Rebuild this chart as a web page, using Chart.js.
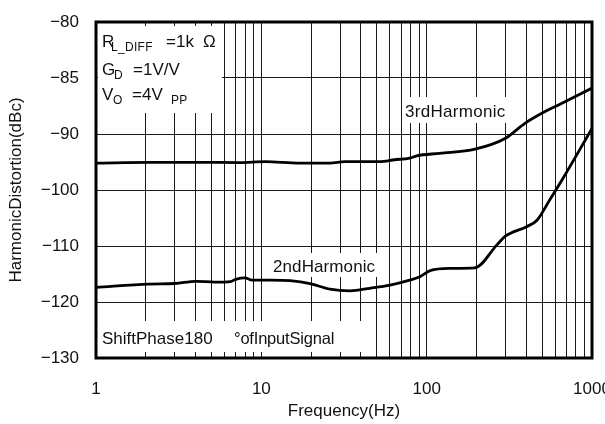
<!DOCTYPE html>
<html>
<head>
<meta charset="utf-8">
<script src="https://cdn.jsdelivr.net/npm/chart.js@4.4.1/dist/chart.umd.min.js"></script>
<style>
  html, body { margin: 0; padding: 0; background: #fff; }
  #wrap { width: 605px; height: 424px; }
</style>
</head>
<body>
<div id="wrap"><canvas id="chart" width="605" height="424"></canvas></div>
<script>
// Harmonic distortion vs frequency (log x, piecewise y axis)
const FONT = "'Liberation Sans', Arial, Helvetica, sans-serif";

// y axis: equally spaced ticks, but 5 dB steps on top and 10 dB steps below
const yTickValues = [-130, -120, -110, -100, -90, -85, -80];
const yTickLabels = ['\u2212130', '\u2212120', '\u2212110', '\u2212100', '\u221290', '\u221285', '\u221280'];

// x axis
const xTickValues = [1, 10, 100, 1000];
const xTickLabels = ['1', '10', '100', '1000'];
const xMinorSteps = [1, 2, 3, 4, 5, 6, 7, 8, 9];

// 3rd harmonic (dBc)
const freq3 = [1, 2.1, 4, 7.4, 10.5, 17, 26, 32, 52, 64, 79, 87, 120, 196, 298, 393, 520, 640, 1000];
const hd3 = [-95.2, -95.05, -95.05, -95.1, -94.95, -95.2, -95.2, -94.95, -94.95, -94.6, -94.3, -93.9, -93.45, -92.7, -90.8, -89.05, -88.0, -87.35, -85.9];

// 2nd harmonic (dBc)
const freq2 = [1, 2.1, 3, 4, 5.25, 6.5, 7.0, 7.96, 8.8, 11.3, 14.9, 19.7, 26, 34.4, 45.4, 60, 79, 91, 105, 138, 196, 266, 298, 405, 465, 557, 668, 1000];
const hd2 = [-117.4, -116.8, -116.7, -116.3, -116.45, -116.35, -115.95, -115.7, -116.1, -116.1, -116.2, -116.7, -117.7, -118.0, -117.55, -117.0, -116.1, -115.5, -114.4, -114.0, -113.9, -109.8, -108.3, -106.5, -105.4, -101.7, -97.9, -89.5];

// map dB onto the evenly spaced tick index of the y axis
function toAxis(db) {
  for (let i = 0; i < yTickValues.length - 1; i++) {
    const a = yTickValues[i], b = yTickValues[i + 1];
    if (db <= b || i === yTickValues.length - 2) return i + (db - a) / (b - a);
  }
  return 0;
}

function points(fs, ds) { return fs.map((f, i) => ({ x: f, y: toAxis(ds[i]) })); }

const xGrid = [];
xTickValues.slice(0, -1).forEach(d => xMinorSteps.forEach(m => xGrid.push(d * m)));
xGrid.push(xTickValues[xTickValues.length - 1]);

function drawText(ctx, str, x, y, size, spacing) {
  ctx.font = size + 'px ' + FONT;
  ctx.letterSpacing = (spacing || 0) + 'px';
  ctx.fillText(str, x, y);
  ctx.letterSpacing = '0px';
}

// white boxes behind the labels (grid lines stop there), frame and notes on top
const notesPlugin = {
  id: 'notes',
  beforeDatasetsDraw(chart) {
    const ctx = chart.ctx;
    ctx.save();
    ctx.fillStyle = '#fff';
    ctx.fillRect(98, 26, 124, 87);
    ctx.fillRect(403, 97, 107, 26);
    ctx.fillRect(268, 253, 112, 24);
    ctx.fillRect(98, 321, 270, 31);
    ctx.restore();
  },
  afterDatasetsDraw(chart) {
    const ctx = chart.ctx, ca = chart.chartArea;
    ctx.save();
    ctx.fillStyle = '#111';
    ctx.textBaseline = 'alphabetic';
    ctx.textAlign = 'left';
    // conditions box
    drawText(ctx, 'R', 102, 46.5, 17, 0);
    drawText(ctx, 'L_DIFF', 111, 51, 12, 0.3);
    drawText(ctx, '=1k', 166, 46.5, 17, 0);
    drawText(ctx, '\u03A9', 203, 46.5, 17, 0);
    drawText(ctx, 'G', 102, 75, 17, 0);
    drawText(ctx, 'D', 114, 78.5, 12, 0);
    drawText(ctx, '=1V/V', 133, 75, 17, 0);
    drawText(ctx, 'V', 102, 100, 17, 0);
    drawText(ctx, 'O', 113, 104, 12, 0);
    drawText(ctx, '=4V', 132, 100, 17, 0);
    drawText(ctx, 'PP', 171, 104, 12, 0.3);
    // curve labels
    drawText(ctx, '3rdHarmonic', 405, 116.5, 17, 0.3);
    drawText(ctx, '2ndHarmonic', 273, 271.5, 17, 0.1);
    drawText(ctx, 'ShiftPhase180', 102, 344, 17, 0);
    drawText(ctx, '\u00B0ofInputSignal', 234, 344, 16.5, -0.2);
    // frame
    ctx.strokeStyle = '#000';
    ctx.lineWidth = 3;
    ctx.strokeRect(ca.left, ca.top, ca.right - ca.left, ca.bottom - ca.top);
    ctx.restore();
  }
};

const lineStyle = { borderColor: '#000', borderWidth: 2.8, pointRadius: 0, fill: false, cubicInterpolationMode: 'monotone' };

new Chart(document.getElementById('chart'), {
  type: 'line',
  data: {
    datasets: [
      Object.assign({ label: '3rd Harmonic', data: points(freq3, hd3) }, lineStyle),
      Object.assign({ label: '2nd Harmonic', data: points(freq2, hd2) }, lineStyle),
    ]
  },
  plugins: [notesPlugin],
  options: {
    responsive: false,
    animation: false,
    events: [],
    layout: { padding: { top: 22, right: 13, left: 0, bottom: 0 } },
    plugins: { legend: { display: false }, tooltip: { enabled: false } },
    scales: {
      x: {
        type: 'logarithmic', min: 1, max: 1000,
        afterBuildTicks: s => { s.ticks = xGrid.map(v => ({ value: v })); },
        afterFit: s => { s.height = 66; s.paddingLeft = 0; s.paddingRight = 0; },
        ticks: {
          autoSkip: false, maxRotation: 0, padding: 21, color: '#111',
          font: { family: FONT, size: 17 },
          callback: v => { const i = xTickValues.indexOf(v); return i >= 0 ? xTickLabels[i] : ''; }
        },
        grid: { color: '#1a1a1a', lineWidth: 1, drawTicks: false },
        border: { display: false },
        title: { display: true, text: 'Frequency(Hz)', color: '#111', font: { family: FONT, size: 17 }, padding: { top: 2, bottom: 2 } }
      },
      y: {
        type: 'linear', min: 0, max: yTickLabels.length - 1,
        afterBuildTicks: s => { s.ticks = yTickLabels.map((_, i) => ({ value: i })); },
        afterFit: s => { s.width = 96; s.paddingTop = 0; s.paddingBottom = 0; },
        ticks: {
          padding: 17, color: '#111',
          font: { family: FONT, size: 17 },
          callback: v => yTickLabels[v]
        },
        grid: { color: '#1a1a1a', lineWidth: 1, drawTicks: false },
        border: { display: false },
        title: { display: true, text: 'HarmonicDistortion(dBc)', color: '#111', font: { family: FONT, size: 17 }, padding: { top: 6, bottom: 6 } }
      }
    }
  }
});
</script>
</body>
</html>
